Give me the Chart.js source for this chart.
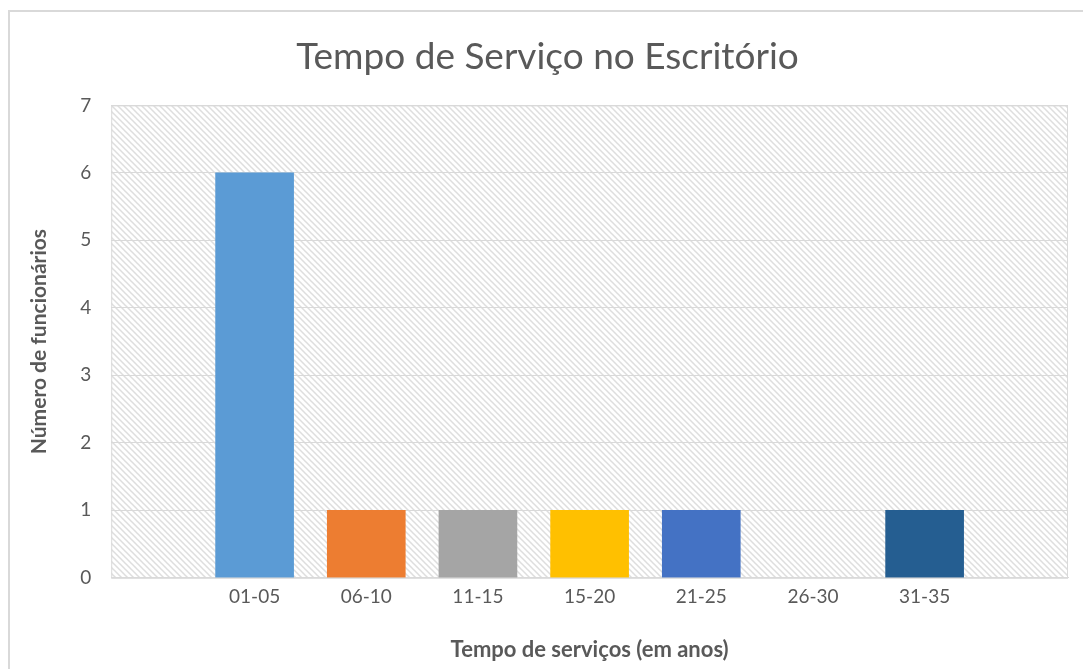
<!DOCTYPE html>
<html>
<head>
<meta charset="utf-8">
<script src="https://cdn.jsdelivr.net/npm/chart.js@4.4.0/dist/chart.umd.min.js"></script>
<style>
  html, body { margin: 0; padding: 0; background: #fff; }
  #wrap { width: 1083px; height: 669px; }
</style>
</head>
<body>
<div id="wrap"><canvas id="grafico"></canvas></div>
<script>
// dados
let faixas = ['01-05', '06-10', '11-15', '15-20', '21-25', '26-30', '31-35'];
let funcionarios = [6, 1, 1, 1, 1, 0, 1];
let cores = ['#5B9BD5', '#ED7D31', '#A5A5A5', '#FFC000', '#4472C4', '#70AD47', '#255E91'];
let ticksY = [0, 1, 2, 3, 4, 5, 6, 7];

// padrão de hachura do fundo
let tile = document.createElement('canvas');
tile.width = 6;
tile.height = 6;
let tctx = tile.getContext('2d');
tctx.strokeStyle = '#dedede';
tctx.lineWidth = 1.5;
tctx.beginPath();
tctx.moveTo(-1, -1); tctx.lineTo(7, 7);
tctx.moveTo(-1, 5); tctx.lineTo(1, 7);
tctx.moveTo(5, -1); tctx.lineTo(7, 1);
tctx.stroke();

let fundo = {
    id: 'fundo',
    beforeDraw(chart) {
        let ctx = chart.ctx;
        let a = chart.chartArea;
        ctx.save();
        // moldura externa
        ctx.strokeStyle = '#d9d9d9';
        ctx.lineWidth = 2;
        ctx.beginPath();
        ctx.moveTo(9, chart.height);
        ctx.lineTo(9, 11);
        ctx.lineTo(chart.width, 11);
        ctx.stroke();
        // hachura
        ctx.fillStyle = ctx.createPattern(tile, 'repeat');
        ctx.fillRect(a.left, a.top, a.right - a.left, a.bottom - a.top);
        ctx.restore();
    },
    afterDatasetsDraw(chart) {
        let ctx = chart.ctx;
        let a = chart.chartArea;
        ctx.save();
        ctx.strokeStyle = '#d9d9d9';
        ctx.lineWidth = 1;
        ctx.strokeRect(a.left + 0.5, a.top + 0.5, a.right - a.left - 1, a.bottom - a.top);
        ctx.restore();
    }
};

let pontos = faixas.map((f, i) => ({ x: i + 1, y: funcionarios[i] }));

let grafico = new Chart(document.getElementById('grafico').getContext('2d'), {
    type: 'bar',
    data: {
        datasets: [{
            label: 'Funcionários',
            data: pontos,
            backgroundColor: (c) => (c.raw && c.raw.y === 0) ? 'rgba(0,0,0,0)' : cores[c.dataIndex],
            borderWidth: 0,
            barThickness: 78
        }]
    },
    options: {
        responsive: true,
        maintainAspectRatio: false,
        animation: false,
        layout: { padding: { left: 27, right: 15, top: 29, bottom: 6 } },
        plugins: {
            legend: { display: false },
            tooltip: { enabled: false },
            title: {
                display: true,
                text: 'Tempo de Serviço no Escritório',
                color: '#595959',
                font: { family: 'Lato', size: 37, weight: 'normal' },
                padding: { top: 6, bottom: 26 }
            }
        },
        scales: {
            x: {
                type: 'linear',
                offset: false,
                min: 1 - 1.284,
                max: faixas.length + 1.284,
                afterBuildTicks(axis) {
                    axis.ticks = faixas.map((f, i) => ({ value: i + 1 }));
                },
                grid: { display: false },
                border: { display: true, color: '#d9d9d9' },
                ticks: {
                    color: '#595959',
                    font: { family: 'Lato', size: 19 },
                    padding: 0,
                    callback: (v) => faixas[v - 1]
                },
                title: {
                    display: true,
                    text: 'Tempo de serviços (em anos)',
                    color: '#595959',
                    font: { family: 'Lato', size: 22, weight: 'bold' },
                    padding: { top: 28, bottom: 0 }
                }
            },
            y: {
                min: 0,
                max: 7,
                afterBuildTicks(axis) {
                    axis.ticks = ticksY.map(v => ({ value: v }));
                },
                grid: { color: '#d9d9d9', drawTicks: false },
                border: { display: false },
                ticks: {
                    color: '#595959',
                    font: { family: 'Lato', size: 19 },
                    padding: 20
                },
                title: {
                    display: true,
                    text: 'Número de funcionários',
                    color: '#595959',
                    font: { family: 'Lato', size: 21, weight: 'bold' },
                    padding: { top: 0, bottom: 8 }
                }
            }
        }
    },
    plugins: [fundo]
});
</script>
</body>
</html>
